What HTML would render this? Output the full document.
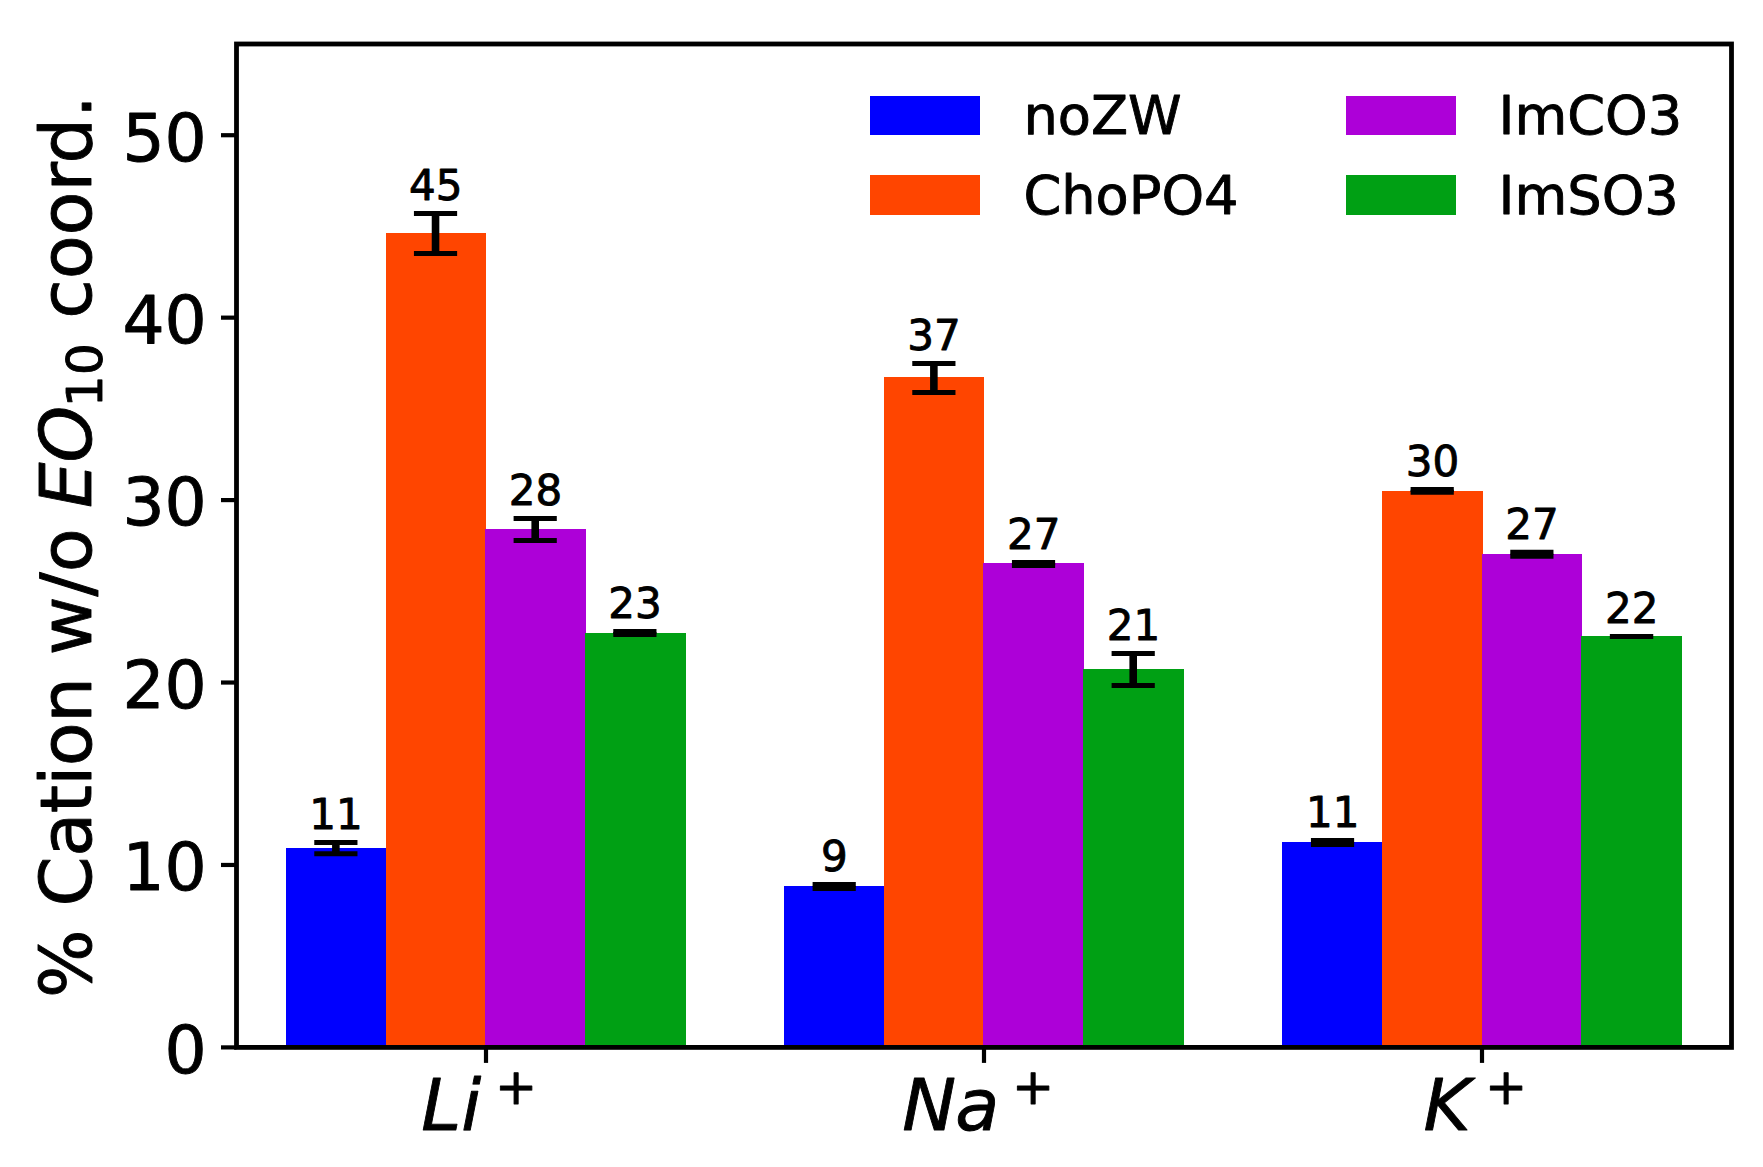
<!DOCTYPE html>
<html lang="en"><head><meta charset="utf-8"><title>Cation coordination chart</title>
<style>html,body{margin:0;padding:0;background:#fff}body{width:1763px;height:1167px;overflow:hidden}svg{display:block}text{font-family:"DejaVu Sans","Liberation Sans",sans-serif;fill:#000;stroke:#000;stroke-width:0.9px;stroke-linejoin:round}.it{font-style:oblique}</style></head><body>
<svg width="1763" height="1167" viewBox="0 0 1763 1167">
<rect width="1763" height="1167" fill="#fff"/>
<g shape-rendering="crispEdges">
<rect x="286" y="848.00" width="100" height="199.40" fill="#0000ff"/>
<rect x="784" y="886.00" width="100" height="161.40" fill="#0000ff"/>
<rect x="1282" y="842.00" width="100" height="205.40" fill="#0000ff"/>
<rect x="386" y="233.00" width="100" height="814.40" fill="#ff4500"/>
<rect x="884" y="377.00" width="100" height="670.40" fill="#ff4500"/>
<rect x="1382" y="491.00" width="101" height="556.40" fill="#ff4500"/>
<rect x="485" y="529.00" width="101" height="518.40" fill="#ad00d8"/>
<rect x="983" y="563.00" width="101" height="484.40" fill="#ad00d8"/>
<rect x="1482" y="554.00" width="100" height="493.40" fill="#ad00d8"/>
<rect x="585" y="633.00" width="101" height="414.40" fill="#00a014"/>
<rect x="1083" y="669.00" width="101" height="378.40" fill="#00a014"/>
<rect x="1581" y="636.00" width="101" height="411.40" fill="#00a014"/>
</g>
<g stroke="#000" fill="none">
<line x1="335.87" y1="842.60" x2="335.87" y2="853.80" stroke-width="7.60"/>
<line x1="314.27" y1="842.60" x2="357.47" y2="842.60" stroke-width="5.00"/>
<line x1="314.27" y1="853.80" x2="357.47" y2="853.80" stroke-width="5.00"/>
<line x1="435.53" y1="213.40" x2="435.53" y2="253.50" stroke-width="7.60"/>
<line x1="413.93" y1="213.40" x2="457.13" y2="213.40" stroke-width="5.00"/>
<line x1="413.93" y1="253.50" x2="457.13" y2="253.50" stroke-width="5.00"/>
<line x1="535.20" y1="518.60" x2="535.20" y2="540.50" stroke-width="7.60"/>
<line x1="513.60" y1="518.60" x2="556.80" y2="518.60" stroke-width="5.00"/>
<line x1="513.60" y1="540.50" x2="556.80" y2="540.50" stroke-width="5.00"/>
<line x1="634.87" y1="631.50" x2="634.87" y2="634.50" stroke-width="7.60"/>
<line x1="613.27" y1="631.50" x2="656.47" y2="631.50" stroke-width="5.00"/>
<line x1="613.27" y1="634.50" x2="656.47" y2="634.50" stroke-width="5.00"/>
<line x1="834.20" y1="884.50" x2="834.20" y2="888.50" stroke-width="7.60"/>
<line x1="812.60" y1="884.50" x2="855.80" y2="884.50" stroke-width="5.00"/>
<line x1="812.60" y1="888.50" x2="855.80" y2="888.50" stroke-width="5.00"/>
<line x1="933.87" y1="363.60" x2="933.87" y2="392.50" stroke-width="7.60"/>
<line x1="912.27" y1="363.60" x2="955.47" y2="363.60" stroke-width="5.00"/>
<line x1="912.27" y1="392.50" x2="955.47" y2="392.50" stroke-width="5.00"/>
<line x1="1033.53" y1="562.40" x2="1033.53" y2="565.40" stroke-width="7.60"/>
<line x1="1011.93" y1="562.40" x2="1055.13" y2="562.40" stroke-width="5.00"/>
<line x1="1011.93" y1="565.40" x2="1055.13" y2="565.40" stroke-width="5.00"/>
<line x1="1133.20" y1="653.60" x2="1133.20" y2="685.60" stroke-width="7.60"/>
<line x1="1111.60" y1="653.60" x2="1154.80" y2="653.60" stroke-width="5.00"/>
<line x1="1111.60" y1="685.60" x2="1154.80" y2="685.60" stroke-width="5.00"/>
<line x1="1332.53" y1="840.50" x2="1332.53" y2="844.50" stroke-width="7.60"/>
<line x1="1310.93" y1="840.50" x2="1354.13" y2="840.50" stroke-width="5.00"/>
<line x1="1310.93" y1="844.50" x2="1354.13" y2="844.50" stroke-width="5.00"/>
<line x1="1432.20" y1="489.40" x2="1432.20" y2="492.30" stroke-width="7.60"/>
<line x1="1410.60" y1="489.40" x2="1453.80" y2="489.40" stroke-width="5.00"/>
<line x1="1410.60" y1="492.30" x2="1453.80" y2="492.30" stroke-width="5.00"/>
<line x1="1531.87" y1="552.30" x2="1531.87" y2="556.30" stroke-width="7.60"/>
<line x1="1510.27" y1="552.30" x2="1553.47" y2="552.30" stroke-width="5.00"/>
<line x1="1510.27" y1="556.30" x2="1553.47" y2="556.30" stroke-width="5.00"/>
<line x1="1631.53" y1="636.50" x2="1631.53" y2="636.50" stroke-width="7.60"/>
<line x1="1609.93" y1="636.50" x2="1653.13" y2="636.50" stroke-width="5.00"/>
<line x1="1609.93" y1="636.50" x2="1653.13" y2="636.50" stroke-width="5.00"/>
</g>
<g font-size="42.0" text-anchor="middle">
<text x="336.07" y="829.30">11</text>
<text x="435.73" y="200.10">45</text>
<text x="535.40" y="505.30">28</text>
<text x="635.07" y="618.20">23</text>
<text x="834.40" y="871.20">9</text>
<text x="934.07" y="350.30">37</text>
<text x="1033.73" y="549.10">27</text>
<text x="1133.40" y="640.30">21</text>
<text x="1332.73" y="827.20">11</text>
<text x="1432.40" y="476.10">30</text>
<text x="1532.07" y="539.00">27</text>
<text x="1631.73" y="623.20">22</text>
</g>
<rect x="236.50" y="44.00" width="1495.00" height="1003.40" fill="none" stroke="#000" stroke-width="4.80"/>
<g stroke="#000" stroke-width="4.20">
<line x1="221.00" y1="1047.40" x2="236.50" y2="1047.40"/>
<line x1="221.00" y1="864.96" x2="236.50" y2="864.96"/>
<line x1="221.00" y1="682.53" x2="236.50" y2="682.53"/>
<line x1="221.00" y1="500.09" x2="236.50" y2="500.09"/>
<line x1="221.00" y1="317.65" x2="236.50" y2="317.65"/>
<line x1="221.00" y1="135.22" x2="236.50" y2="135.22"/>
<line x1="486.00" y1="1047.40" x2="486.00" y2="1062.90"/>
<line x1="984.00" y1="1047.40" x2="984.00" y2="1062.90"/>
<line x1="1482.00" y1="1047.40" x2="1482.00" y2="1062.90"/>
</g>
<g font-size="66.3" text-anchor="end">
<text x="206.80" y="1072.70">0</text>
<text x="206.80" y="890.26">10</text>
<text x="206.80" y="707.83">20</text>
<text x="206.80" y="525.39">30</text>
<text x="206.80" y="342.95">40</text>
<text x="206.80" y="160.52">50</text>
</g>
<text><tspan class="it" x="421.20" y="1130.4" font-size="72.0">Li</tspan><tspan x="494.90" y="1103.7" font-size="50.4">+</tspan></text>
<text><tspan class="it" x="902.30" y="1130.4" font-size="72.0" letter-spacing="-1.0">Na</tspan><tspan x="1011.90" y="1103.7" font-size="50.4">+</tspan></text>
<text><tspan class="it" x="1423.50" y="1130.4" font-size="72.0">K</tspan><tspan x="1484.90" y="1103.7" font-size="50.4">+</tspan></text>
<g transform="translate(91.3,1000) rotate(-90)"><text font-size="72.0"><tspan x="1.9" y="0">% </tspan><tspan x="93.5" y="0" letter-spacing="-0.6">Cation </tspan><tspan x="344.7" y="0">w/o </tspan><tspan class="it" x="492.0" y="0">EO</tspan><tspan font-size="50.4" x="592.7" y="10.8">10</tspan><tspan x="681.3" y="0" letter-spacing="-0.2">coord.</tspan></text></g>
<rect x="869.90" y="96.00" width="110.3" height="39.0" fill="#0000ff" shape-rendering="crispEdges"/>
<text x="1023.40" y="134.30" font-size="54.2">noZW</text>
<rect x="869.90" y="175.00" width="110.3" height="40.0" fill="#ff4500" shape-rendering="crispEdges"/>
<text x="1023.40" y="213.70" font-size="54.2">ChoPO4</text>
<rect x="1346.00" y="96.00" width="110.3" height="39.0" fill="#ad00d8" shape-rendering="crispEdges"/>
<text x="1498.50" y="134.30" font-size="54.2">ImCO3</text>
<rect x="1346.00" y="175.00" width="110.3" height="40.0" fill="#00a014" shape-rendering="crispEdges"/>
<text x="1498.50" y="213.70" font-size="54.2">ImSO3</text>
</svg></body></html>
